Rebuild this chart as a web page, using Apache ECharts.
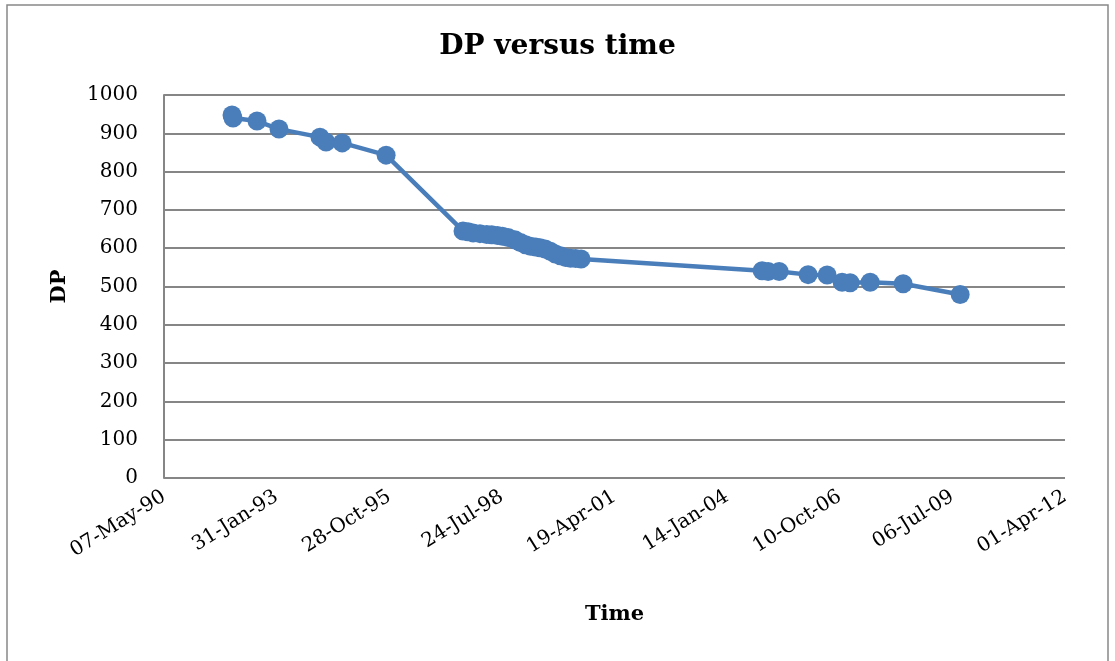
<!DOCTYPE html>
<html>
<head>
<meta charset="utf-8">
<script src="https://cdn.jsdelivr.net/npm/echarts@6/dist/echarts.min.js"></script>
<style>
html,body{margin:0;padding:0;background:#fff;}
#chart{width:1115px;height:661px;}
</style>
</head>
<body>
<div id="chart"></div>
<script>
// Dates of measurements
var dates = [
  '1992-01-01','1992-01-10','1992-08-10','1993-02-21','1994-02-20','1994-04-15','1994-09-05','1995-09-30',
  '1997-08-13','1997-09-27','1997-11-11','1998-01-10','1998-03-11','1998-04-25','1998-06-14','1998-07-29',
  '1998-09-17','1998-11-16','1999-01-05','1999-02-19','1999-04-05','1999-05-20','1999-06-29','1999-08-13',
  '1999-09-27','1999-11-11','1999-12-26','2000-02-09','2000-03-25','2000-05-09','2000-06-26',
  '2004-11-20','2005-01-12','2005-04-20','2006-01-02','2006-06-20','2006-10-31','2007-01-10','2007-07-07',
  '2008-04-25','2009-09-13'
];
// DP values
var dpValues = [
  948,940,932,911,890,877,875,843,
  645,643,640,638,636,635,633,631,
  628,622,615,609,605,603,601,598,
  592,585,580,576,574,573,572,
  541,539,539,531,530,511,510,511,
  507,479
];
var yTicks = [0,100,200,300,400,500,600,700,800,900,1000];
var xTickLabels = ['07-May-90','31-Jan-93','28-Oct-95','24-Jul-98','19-Apr-01','14-Jan-04','10-Oct-06','06-Jul-09','01-Apr-12'];

// Excel-style day serial numbers
function toSerial(s){ return Math.round(Date.parse(s + 'T00:00:00Z') / 86400000) + 25569; }
var X_MIN = 33000, X_STEP = 1000;
var seriesData = dates.map(function(d, i){ return [toSerial(d), dpValues[i]]; });

var FONT = '"DejaVu Serif", "Liberation Serif", serif';
var chart = echarts.init(document.getElementById('chart'));
chart.setOption({
  backgroundColor: '#fff',
  animation: false,
  title: {
    text: 'DP versus time',
    left: 'center', top: 28,
    textStyle: { fontFamily: FONT, fontSize: 28, fontWeight: 'bold', color: '#000' }
  },
  graphic: [{
    type: 'rect', silent: true,
    shape: { x: 7, y: 5, width: 1101, height: 700 },
    style: { fill: 'none', stroke: '#888', lineWidth: 1.5 }
  }],
  grid: { left: 164, right: 50, top: 95, bottom: 183 },
  xAxis: {
    type: 'value',
    min: X_MIN, max: X_MIN + X_STEP * (xTickLabels.length - 1), interval: X_STEP,
    name: 'Time', nameLocation: 'middle', nameGap: 126,
    nameTextStyle: { fontFamily: FONT, fontSize: 21, fontWeight: 'bold', color: '#000' },
    axisLine: { show: false },
    axisTick: { show: false },
    splitLine: { show: false },
    axisLabel: {
      rotate: 32, margin: 17,
      fontFamily: FONT, fontSize: 20, color: '#000',
      formatter: function(v){ return xTickLabels[Math.round((v - X_MIN) / X_STEP)]; }
    }
  },
  yAxis: {
    type: 'value',
    min: yTicks[0], max: yTicks[yTicks.length-1], interval: 100,
    name: 'DP', nameLocation: 'middle', nameGap: 94, nameRotate: 90,
    nameTextStyle: { fontFamily: FONT, fontSize: 21, fontWeight: 'bold', color: '#000' },
    axisLine: { show: true, lineStyle: { color: '#868686', width: 2 } },
    axisTick: { show: false },
    splitLine: { show: true, lineStyle: { color: '#868686', width: 2 } },
    axisLabel: { margin: 26, fontFamily: FONT, fontSize: 20, color: '#000',
      formatter: function(v){ return String(v); } }
  },
  series: [{
    type: 'line',
    data: seriesData,
    symbol: 'circle', symbolSize: 19,
    lineStyle: { color: '#4a7ebb', width: 4.5 },
    itemStyle: { color: '#4a7ebb' }
  }]
});
</script>
</body>
</html>
